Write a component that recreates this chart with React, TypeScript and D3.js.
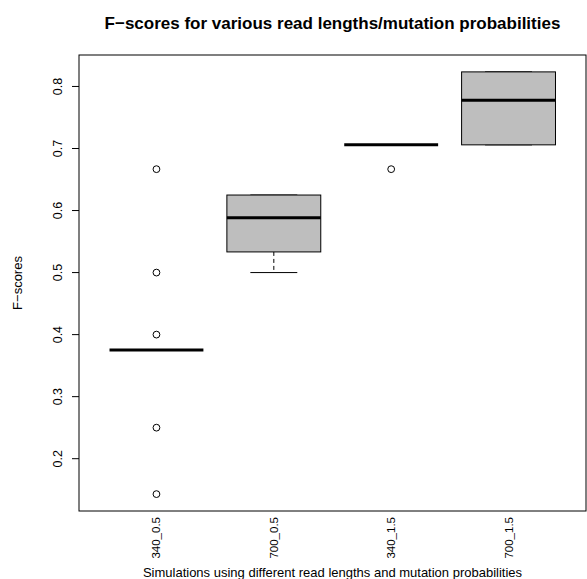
import React from "react";
import * as d3 from "d3";

// groups and their box stats
const groups = ["340_0.5", "700_0.5", "340_1.5", "700_1.5"];
const lowerWhisker = [0.375, 0.5, 0.7059, 0.7059];
const q1 = [0.375, 0.5333, 0.7059, 0.7059];
const medians = [0.375, 0.5882, 0.7059, 0.7778];
const q3 = [0.375, 0.625, 0.7059, 0.8235];
const upperWhisker = [0.375, 0.625, 0.7059, 0.8235];
const outliers = [
  [0.6667, 0.5, 0.4, 0.25, 0.1429],
  [],
  [0.6667],
  [],
];
const yTicks = [0.2, 0.3, 0.4, 0.5, 0.6, 0.7, 0.8];

const title = "F\u2212scores for various read lengths/mutation probabilities";
const xTitle = "Simulations using different read lengths and mutation probabilities";
const yTitle = "F\u2212scores";

const W = 587;
const H = 579;
const plot = { left: 79, right: 586, top: 55, bottom: 511 };
const font = "'Liberation Sans', Arial, Helvetica, sans-serif";

export default function App() {
  // R-style 4% extension of the data range
  const allVals = [...lowerWhisker, ...upperWhisker, ...outliers.flat()];
  const lo = d3.min(allVals) as number;
  const hi = d3.max(allVals) as number;
  const pad = (hi - lo) * 0.04;

  const y = d3.scaleLinear().domain([lo - pad, hi + pad]).range([plot.bottom, plot.top]);
  const n = groups.length;
  const xPad = n * 0.04;
  const x = d3
    .scaleLinear()
    .domain([0.5 - xPad, n + 0.5 + xPad])
    .range([plot.left, plot.right]);

  const halfBox = x(1.4) - x(1);
  const halfStaple = x(1.2) - x(1);

  return (
    <svg width={W} height={H} style={{ position: "absolute", left: 0, top: 0, background: "#fff" }}>
      <rect width={W} height={H} fill="#fff" />
      <text
        x={(plot.left + plot.right) / 2}
        y={29}
        textAnchor="middle"
        fontFamily={font}
        fontWeight="bold"
        fontSize={17}
      >
        {title}
      </text>

      {/* boxes */}
      {groups.map((g, i) => {
        const cx = x(i + 1);
        return (
          <g key={g}>
            <line x1={cx} x2={cx} y1={y(q3[i])} y2={y(upperWhisker[i])} stroke="#000" strokeDasharray="4,3" />
            <line x1={cx} x2={cx} y1={y(q1[i])} y2={y(lowerWhisker[i])} stroke="#000" strokeDasharray="4,3" />
            <line x1={cx - halfStaple} x2={cx + halfStaple} y1={y(upperWhisker[i])} y2={y(upperWhisker[i])} stroke="#000" />
            <line x1={cx - halfStaple} x2={cx + halfStaple} y1={y(lowerWhisker[i])} y2={y(lowerWhisker[i])} stroke="#000" />
            <rect
              x={cx - halfBox}
              y={y(q3[i])}
              width={halfBox * 2}
              height={y(q1[i]) - y(q3[i])}
              fill="#bebebe"
              stroke="#000"
              strokeWidth={1}
            />
            <line x1={cx - halfBox} x2={cx + halfBox} y1={y(medians[i])} y2={y(medians[i])} stroke="#000" strokeWidth={3} />
            {outliers[i].map((v, j) => (
              <circle key={j} cx={cx} cy={y(v)} r={3.4} fill="none" stroke="#000" strokeWidth={1} />
            ))}
          </g>
        );
      })}

      {/* frame */}
      <rect
        x={plot.left}
        y={plot.top}
        width={plot.right - plot.left}
        height={plot.bottom - plot.top}
        fill="none"
        stroke="#000"
      />

      {/* y axis */}
      {yTicks.map((t) => (
        <g key={t}>
          <line x1={plot.left - 7} x2={plot.left} y1={y(t)} y2={y(t)} stroke="#000" />
          <text
            transform={`translate(${plot.left - 17},${y(t)}) rotate(-90)`}
            textAnchor="middle"
            fontFamily={font}
            fontSize={12.5}
          >
            {t.toFixed(1)}
          </text>
        </g>
      ))}

      {/* x axis labels */}
      {groups.map((g, i) => (
        <text
          key={g}
          transform={`translate(${x(i + 1) + 4},${plot.bottom + 6}) rotate(-90)`}
          textAnchor="end"
          fontFamily={font}
          fontSize={11.5}
        >
          {g}
        </text>
      ))}

      <text x={(plot.left + plot.right) / 2} y={577} textAnchor="middle" fontFamily={font} fontSize={13}>
        {xTitle}
      </text>
      <text
        transform={`translate(22,${(plot.top + plot.bottom) / 2}) rotate(-90)`}
        textAnchor="middle"
        fontFamily={font}
        fontSize={13}
      >
        {yTitle}
      </text>
    </svg>
  );
}
